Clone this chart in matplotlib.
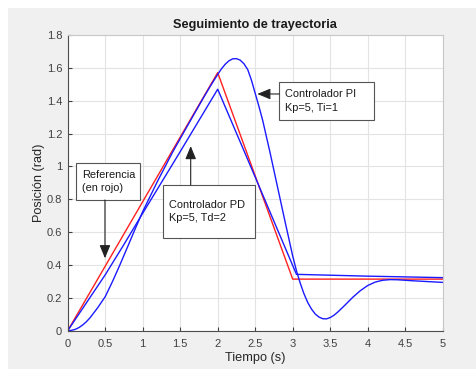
import matplotlib
matplotlib.use("Agg")
import matplotlib.pyplot as plt
from matplotlib.patches import Rectangle

plt.rcParams["font.family"] = ["Liberation Sans", "DejaVu Sans"]

# Reference trajectory (red)
ref_t = [0.0, 2.0, 3.0, 5.0]
ref_v = [0.0, 1.571, 0.314, 0.314]

# PD controller response (Kp=5, Td=2)
pd_t = [0.0, 0.25, 0.5, 0.75, 1.0, 1.5, 2.0, 2.5, 3.05, 4.0, 5.0]
pd_v = [0.0, 0.17, 0.34, 0.525, 0.715, 1.09, 1.47, 0.935, 0.343, 0.332, 0.323]

# PI controller response (Kp=5, Ti=1)
pi_t = [0.0, 0.05, 0.1, 0.15, 0.2, 0.25, 0.3, 0.4, 0.5, 0.6, 0.7, 0.8, 0.9,
        1.0, 1.2, 1.4, 1.6, 1.8, 1.9, 2.0, 2.05, 2.1, 2.15, 2.2, 2.25, 2.3,
        2.35, 2.4, 2.45, 2.5, 2.55, 2.6, 2.7, 2.8, 2.9, 3.0, 3.05, 3.1, 3.15,
        3.2, 3.25, 3.3, 3.35, 3.4, 3.45, 3.5, 3.55, 3.6, 3.7, 3.8, 3.9, 4.0,
        4.1, 4.2, 4.3, 4.4, 4.6, 4.8, 5.0]
pi_v = [0.0, 0.002, 0.008, 0.019, 0.035, 0.055, 0.08, 0.14, 0.207, 0.302,
        0.405, 0.512, 0.62, 0.725, 0.912, 1.088, 1.25, 1.41, 1.487, 1.56,
        1.594, 1.622, 1.643, 1.655, 1.656, 1.647, 1.625, 1.59, 1.525, 1.445,
        1.365, 1.28, 1.08, 0.87, 0.66, 0.455, 0.365, 0.29, 0.225, 0.172,
        0.132, 0.102, 0.083, 0.073, 0.072, 0.08, 0.094, 0.113, 0.157, 0.203,
        0.243, 0.275, 0.296, 0.307, 0.311, 0.31, 0.304, 0.299, 0.294]

x_ticks = [0, 0.5, 1, 1.5, 2, 2.5, 3, 3.5, 4, 4.5, 5]
x_tick_labels = ["0", "0.5", "1", "1.5", "2", "2.5", "3", "3.5", "4", "4.5", "5"]
y_ticks = [0, 0.2, 0.4, 0.6, 0.8, 1.0, 1.2, 1.4, 1.6, 1.8]
y_tick_labels = ["0", "0.2", "0.4", "0.6", "0.8", "1", "1.2", "1.4", "1.6", "1.8"]

W, H = 477, 369
fig = plt.figure(figsize=(W / 100, H / 100), dpi=100, facecolor="white")
fig.patches.append(Rectangle((8 / W, 0), 1 - 8 / W, (H - 8) / H,
                             transform=fig.transFigure, facecolor="#f0f0f0",
                             edgecolor="none", zorder=-10))

ax = fig.add_axes([67.7 / W, (H - 330.7) / H, 375 / W, 295.7 / H])
ax.set_facecolor("white")

ax.plot(ref_t, ref_v, color="#ff2020", lw=1.0)
ax.plot(pd_t, pd_v, color="#1a1aff", lw=1.0)
ax.plot(pi_t, pi_v, color="#1a1aff", lw=1.0)

ax.set_xlim(0, 5)
ax.set_ylim(0, 1.8)
ax.set_xticks(x_ticks, x_tick_labels)
ax.set_yticks(y_ticks, y_tick_labels)
ax.tick_params(direction="in", length=3, width=0.8, colors="#404040",
               labelsize=8, pad=4)
ax.tick_params(axis="x", pad=6)
ax.grid(True, color="#e3e3e3", lw=0.8)
ax.set_axisbelow(True)
for side in ("left", "bottom"):
    ax.spines[side].set_color("#4d4d4d")
    ax.spines[side].set_linewidth(0.8)
for side in ("top", "right"):
    ax.spines[side].set_color("#c8c8c8")
    ax.spines[side].set_linewidth(0.8)

ax.set_title("Seguimiento de trayectoria", fontsize=9.2, fontweight="bold",
             color="#1a1a1a", pad=5)
ax.set_xlabel("Tiempo (s)", fontsize=9.2, color="#262626", labelpad=2)
ax.set_ylabel("Posición (rad)", fontsize=9.2, color="#262626", labelpad=1)

arrow_style = dict(arrowstyle="-|>,head_length=0.8,head_width=0.33",
                   color="#222222", lw=0.8, shrinkA=0, shrinkB=0)


def text_box(x0, y0, x1, y1, lines, tx):
    ax.add_patch(Rectangle((x0, y0), x1 - x0, y1 - y0, facecolor="white",
                           edgecolor="#555555", lw=0.8, zorder=5))
    ax.text(tx, (y0 + y1) / 2, lines, fontsize=7.9, color="#1a1a1a",
            ha="left", va="center", linespacing=1.45, zorder=6)


# Referencia box + arrow down
text_box(0.111, 0.796, 0.964, 1.022, "Referencia\n(en rojo)", 0.19)
ax.annotate("", xy=(0.497, 0.441), xytext=(0.497, 0.796),
            arrowprops=arrow_style, zorder=6)

# PD box + arrow up
text_box(1.267, 0.562, 2.497, 0.887, "Controlador PD\nKp=5, Td=2", 1.345)
ax.annotate("", xy=(1.64, 1.124), xytext=(1.64, 0.887),
            arrowprops=arrow_style, zorder=6)

# PI box + arrow left
text_box(2.821, 1.283, 4.08, 1.514, "Controlador PI\nKp=5, Ti=1", 2.9)
ax.annotate("", xy=(2.528, 1.441), xytext=(2.821, 1.441),
            arrowprops=arrow_style, zorder=6)

fig.savefig("out.png", dpi=100, facecolor=fig.get_facecolor())
